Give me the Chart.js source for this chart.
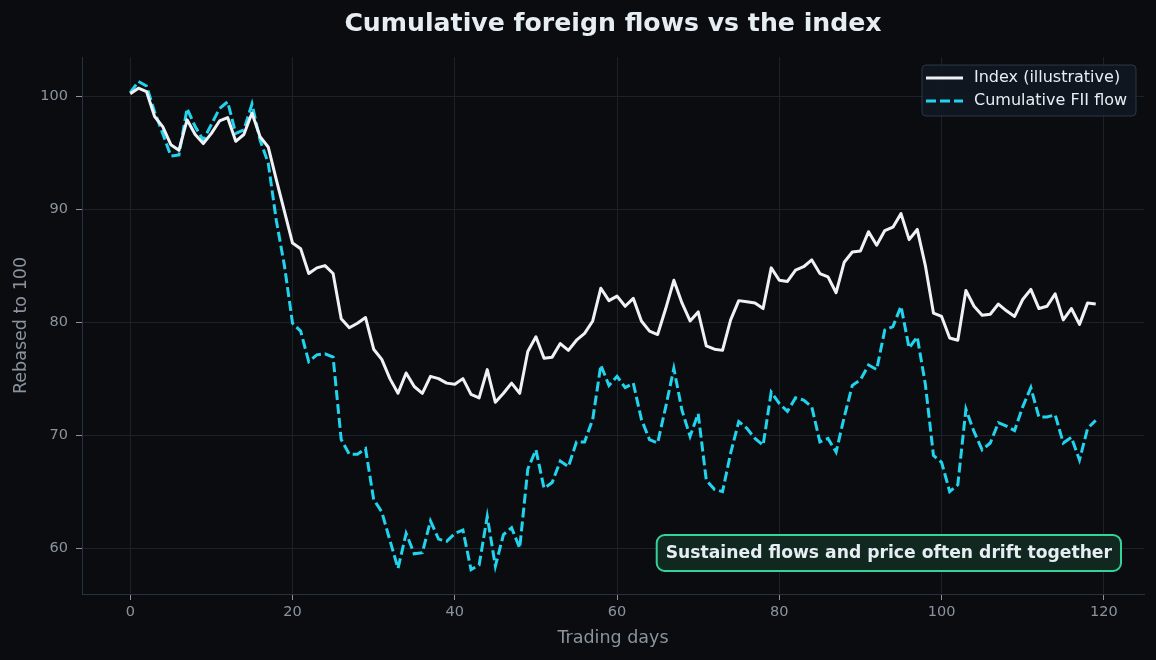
<!DOCTYPE html>
<html>
<head>
<meta charset="utf-8">
<script src="https://cdn.jsdelivr.net/npm/chart.js@4.4.1/dist/chart.umd.min.js"></script>
<style>
  html, body { margin: 0; padding: 0; background: #0b0c10; }
  canvas { display: block; }
</style>
</head>
<body>
<canvas id="fluxoChart" width="1156" height="660"></canvas>
<script>
// Dias de pregão (eixo x)
const days = Array.from({ length: 120 }, (_, i) => i);

// Índice rebaseado a 100
const indexValues = [
    100.2, 100.7, 100.4, 98.2, 97.3, 95.7, 95.2, 97.9, 96.6, 95.8,
    96.7, 97.8, 98.1, 96.0, 96.6, 98.5, 96.4, 95.5, 92.6, 89.8,
    87.0, 86.5, 84.3, 84.8, 85.0, 84.3, 80.3, 79.5, 79.9, 80.4,
    77.6, 76.7, 75.0, 73.7, 75.5, 74.3, 73.7, 75.2, 75.0, 74.6,
    74.5, 75.0, 73.6, 73.3, 75.8, 72.9, 73.7, 74.6, 73.7, 77.4,
    78.7, 76.8, 76.9, 78.1, 77.5, 78.4, 79.0, 80.1, 83.0, 81.9,
    82.3, 81.4, 82.1, 80.1, 79.2, 78.9, 81.2, 83.7, 81.7, 80.1,
    80.9, 77.9, 77.6, 77.5, 80.2, 81.9, 81.8, 81.7, 81.2, 84.8,
    83.7, 83.6, 84.6, 84.9, 85.5, 84.3, 84.0, 82.6, 85.3, 86.2,
    86.3, 88.0, 86.8, 88.1, 88.4, 89.6, 87.3, 88.2, 85.0, 80.8,
    80.5, 78.6, 78.4, 82.8, 81.4, 80.6, 80.7, 81.6, 81.0, 80.5,
    82.0, 82.9, 81.2, 81.4, 82.5, 80.2, 81.2, 79.8, 81.7, 81.6
];

// Fluxo FII acumulado rebaseado a 100
const fiiFlow = [
    100.3, 101.3, 100.9, 98.6, 96.7, 94.7, 94.8, 98.9, 97.3, 96.1,
    97.5, 98.9, 99.5, 96.7, 97.0, 99.3, 96.1, 94.1, 89.0, 85.0,
    79.9, 79.2, 76.5, 77.1, 77.2, 76.9, 69.6, 68.3, 68.3, 68.8,
    64.3, 63.2, 60.7, 58.2, 61.3, 59.5, 59.6, 62.4, 60.8, 60.6,
    61.3, 61.6, 58.1, 58.5, 62.8, 58.4, 61.2, 61.8, 60.0, 67.0,
    68.7, 65.3, 65.8, 67.7, 67.2, 69.4, 69.4, 71.4, 76.2, 74.4,
    75.2, 74.2, 74.6, 71.4, 69.6, 69.3, 72.5, 75.9, 72.2, 69.9,
    71.9, 66.0, 65.2, 65.0, 68.4, 71.2, 70.6, 69.7, 69.1, 73.8,
    72.8, 72.1, 73.3, 73.1, 72.5, 69.4, 69.7, 68.5, 71.6, 74.4,
    74.9, 76.2, 75.8, 79.3, 79.6, 81.4, 77.7, 78.7, 74.5, 68.2,
    67.6, 65.0, 65.6, 72.3, 70.3, 68.7, 69.3, 71.1, 70.8, 70.4,
    72.5, 74.2, 71.6, 71.6, 71.8, 69.3, 69.8, 67.8, 70.6, 71.3
];

const xTicks = [0, 20, 40, 60, 80, 100, 120];
const yTicks = [60, 70, 80, 90, 100];

const seriesNames = ['Index (illustrative)', 'Cumulative FII flow'];
const chartTitle = 'Cumulative foreign flows vs the index';
const noteText = 'Sustained flows and price often drift together';

const FONT = "'DejaVu Sans', sans-serif";
const corTexto = '#8b949e';
const corGrade = '#1a222c';
const corBorda = '#263240';
const corIndice = '#eef2f7';
const corFluxo = '#22d3ee';

// Fundo, título, legenda e caixa de nota
const extras = {
    id: 'extras',
    beforeDraw(chart) {
        const c = chart.ctx;
        c.save();
        c.fillStyle = '#0b0c10';
        c.fillRect(0, 0, chart.width, chart.height);
        c.restore();
    },
    afterDraw(chart) {
        const c = chart.ctx;
        const area = chart.chartArea;
        c.save();

        // título
        c.fillStyle = '#e6edf3';
        c.font = 'bold 25.2px ' + FONT;
        c.textAlign = 'center';
        c.textBaseline = 'middle';
        c.fillText(chartTitle, (area.left + area.right) / 2, 24);

        // legenda
        const lx = 922, ly = 65, lw = 214, lh = 51;
        c.beginPath();
        c.roundRect(lx, ly, lw, lh, 4);
        c.fillStyle = 'rgba(17, 24, 33, 0.92)';
        c.fill();
        c.strokeStyle = '#2a3644';
        c.lineWidth = 1;
        c.stroke();

        c.lineWidth = 3;
        c.strokeStyle = corIndice;
        c.beginPath();
        c.moveTo(926, 78);
        c.lineTo(963, 78);
        c.stroke();

        c.strokeStyle = corFluxo;
        c.setLineDash([10, 4]);
        c.beginPath();
        c.moveTo(926, 101);
        c.lineTo(963, 101);
        c.stroke();
        c.setLineDash([]);

        c.fillStyle = '#e6edf3';
        c.font = '16px ' + FONT;
        c.textAlign = 'left';
        c.fillText(seriesNames[0], 974, 78);
        c.fillText(seriesNames[1], 974, 101);

        // nota
        c.font = 'bold 17.2px ' + FONT;
        const tw = c.measureText(noteText).width;
        const bw = tw + 18, bh = 36;
        const bx = area.right - 23 - bw;
        const by = area.bottom - 23 - bh;
        c.beginPath();
        c.roundRect(bx, by, bw, bh, 8);
        c.fillStyle = '#112820';
        c.fill();
        c.strokeStyle = '#34d399';
        c.lineWidth = 2;
        c.stroke();
        c.fillStyle = '#e6edf3';
        c.textAlign = 'center';
        c.fillText(noteText, bx + bw / 2, by + bh / 2 + 1);

        c.restore();
    }
};

const ctx = document.getElementById('fluxoChart').getContext('2d');

const fluxoChart = new Chart(ctx, {
    type: 'line',
    data: {
        datasets: [
            {
                label: seriesNames[0],
                data: days.map((d, i) => ({ x: d, y: indexValues[i] })),
                borderColor: corIndice,
                borderWidth: 3,
                pointRadius: 0,
                tension: 0,
                borderJoinStyle: 'round'
            },
            {
                label: seriesNames[1],
                data: days.map((d, i) => ({ x: d, y: fiiFlow[i] })),
                borderColor: corFluxo,
                borderWidth: 3,
                borderDash: [10, 4],
                pointRadius: 0,
                tension: 0
            }
        ]
    },
    options: {
        responsive: false,
        animation: false,
        devicePixelRatio: 1,
        layout: { padding: { top: 57, right: 12, left: 0, bottom: 0 } },
        plugins: {
            legend: { display: false },
            title: { display: false },
            tooltip: { enabled: false }
        },
        scales: {
            x: {
                type: 'linear',
                min: -5.95,
                max: 124.95,
                afterBuildTicks: (axis) => { axis.ticks = xTicks.map(v => ({ value: v })); },
                afterFit: (axis) => { axis.height = 66; },
                grid: { color: corGrade, tickColor: corTexto, tickLength: 6 },
                border: { color: corBorda },
                ticks: { color: corTexto, font: { family: FONT, size: 14.5 }, padding: 4, maxRotation: 0 },
                title: {
                    display: true,
                    text: 'Trading days',
                    color: corTexto,
                    font: { family: FONT, size: 17.5 },
                    padding: { top: 4, bottom: 11 }
                }
            },
            y: {
                min: 55.94,
                max: 103.46,
                afterBuildTicks: (axis) => { axis.ticks = yTicks.map(v => ({ value: v })); },
                afterFit: (axis) => { axis.width = 82; },
                grid: { color: corGrade, tickColor: corTexto, tickLength: 6 },
                border: { color: corBorda },
                ticks: { color: corTexto, font: { family: FONT, size: 14.5 }, padding: 8 },
                title: {
                    display: true,
                    text: 'Rebased to 100',
                    color: corTexto,
                    font: { family: FONT, size: 17.5 },
                    padding: { top: 11, bottom: 4 }
                }
            }
        }
    },
    plugins: [extras]
});
</script>
</body>
</html>
